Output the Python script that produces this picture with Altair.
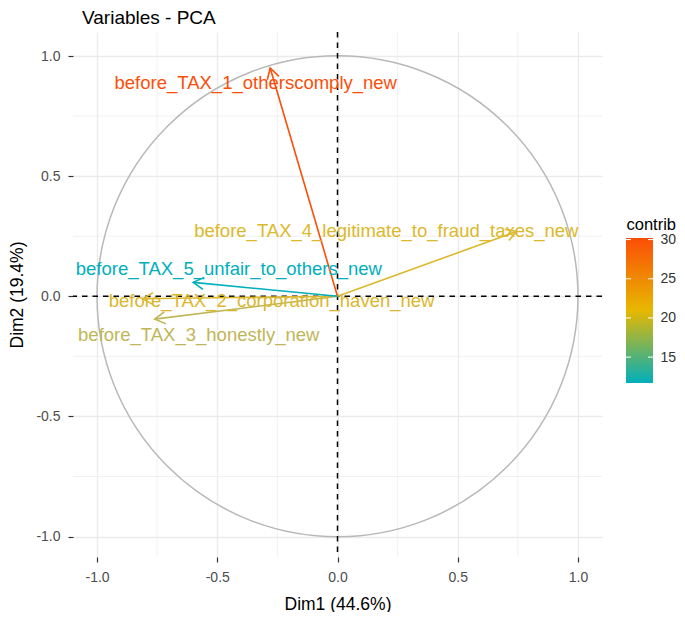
import math
import altair as alt
import numpy as np
import pandas as pd

# ---- data ----
variables = [
    "before_TAX_1_otherscomply_new",
    "before_TAX_2_corporation_haven_new",
    "before_TAX_3_honestly_new",
    "before_TAX_4_legitimate_to_fraud_taxes_new",
    "before_TAX_5_unfair_to_others_new",
]
dim1 = [-0.28, -0.81, -0.76, 0.745, -0.60]
dim2 = [0.95, -0.01, -0.095, 0.27, 0.058]
contrib = [30.2, 20.0, 18.0, 20.1, 11.7]
# repelled label positions (centre of text)
label_x = [-0.34, -0.274, -0.577, 0.203, -0.452]
label_y = [0.886, -0.021, -0.162, 0.27, 0.112]
major_ticks = [-1.0, -0.5, 0.0, 0.5, 1.0]
minor_ticks = [-0.75, -0.25, 0.25, 0.75]
legend_values = [15, 20, 25, 30]
grad_colors = ["#00AFBB", "#E7B800", "#FC4E07"]

# ---- layout ----
W, H = 529, 525
X_DOM = [-1.1, 1.1]
Y_DOM = [-1.085, 1.1]
SX = W / (X_DOM[1] - X_DOM[0])
SY = H / (Y_DOM[1] - Y_DOM[0])
FONT = "Liberation Sans"
# colour bar placement (plot-area pixels)
BAR_X0, BAR_W = 553, 27
BAR_TOP, BAR_BOTTOM = 206, 351

df = pd.DataFrame({
    "variable": variables, "dim1": dim1, "dim2": dim2,
    "contrib": contrib, "lx": label_x, "ly": label_y,
})
df["o"] = 0.0
df["angle"] = [
    (math.degrees(math.atan2(-b * SY, a * SX)) + 360) % 360 for a, b in zip(dim1, dim2)
]
minor_df = pd.DataFrame({"v": minor_ticks})
origin_df = pd.DataFrame({"c": [0.0]})
cmin, cmax = min(contrib), max(contrib)
bar_df = pd.DataFrame({"lo": [cmin], "hi": [cmax]})
lv_df = pd.DataFrame({"v": legend_values})

xs = alt.Scale(domain=X_DOM, nice=False, zero=False)
ys = alt.Scale(domain=Y_DOM, nice=False, zero=False)
cs = alt.Scale(domain=[cmin, (cmin + cmax) / 2, cmax], range=grad_colors, interpolate="lab")
ls = alt.Scale(domain=[cmin, cmax], range=[BAR_BOTTOM, BAR_TOP], nice=False, zero=False)

lab_expr = "replace(format(datum.value, '.1f'), '\u2212', '-')"
x_axis = alt.Axis(values=major_ticks, title="Dim1 (44.6%)", grid=True, gridColor="#ebebeb",
                  gridWidth=1.3, domain=False, tickColor="#333333", tickSize=5, tickWidth=1.2,
                  labelFontSize=14, labelColor="#4d4d4d", labelFont=FONT, labelPadding=8,
                  labelExpr=lab_expr, titleFont=FONT, titleFontSize=17.5,
                  titleFontWeight="normal", titleColor="#000000", titlePadding=11)
y_axis = alt.Axis(values=major_ticks, title="Dim2 (19.4%)", grid=True, gridColor="#ebebeb",
                  gridWidth=1.3, domain=False, tickColor="#333333", tickSize=5, tickWidth=1.2,
                  labelFontSize=14, labelColor="#4d4d4d", labelFont=FONT, labelPadding=8,
                  labelExpr=lab_expr, titleFont=FONT, titleFontSize=17.5,
                  titleFontWeight="normal", titleColor="#000000",
                  titleAngle=270, titleBaseline="top", titleX=-65, titleY=H / 2)
AXIS_OFFSET = 53
legend_axis = alt.Axis(orient="right", values=legend_values, offset=AXIS_OFFSET, ticks=False,
                       domain=False, grid=False, labelFontSize=14, labelFont=FONT,
                       labelColor="#333333", labelPadding=5, title="contrib",
                       titleFont=FONT, titleFontSize=16.5, titleFontWeight="normal",
                       titleColor="#000000", titleAngle=0, titleAlign="left",
                       titleBaseline="alphabetic", titleX=BAR_X0 - (W + AXIS_OFFSET),
                       titleY=BAR_TOP - 9)


def X(field):
    return alt.X(field, scale=xs, axis=x_axis)


def Y(field):
    return alt.Y(field, scale=ys, axis=y_axis)


def LY(field):
    return alt.Y(field, scale=ls, axis=legend_axis)


def S():
    return alt.Stroke("contrib:Q", scale=cs, legend=None)


base = alt.Chart(df)

minor_x = alt.Chart(minor_df).mark_rule(color="#ebebeb", strokeWidth=0.7).encode(x=X("v:Q"))
minor_y = alt.Chart(minor_df).mark_rule(color="#ebebeb", strokeWidth=0.7).encode(y=Y("v:Q"))

circle = alt.Chart(origin_df).mark_arc(
    radius=SX, theta=0, theta2=2 * math.pi, filled=False, stroke="#b8b8b8",
    strokeWidth=1.5, fill=None).encode(x=X("c:Q"), y=Y("c:Q"))

zero_v = alt.Chart(origin_df).mark_rule(
    color="#000000", strokeDash=[5.5, 5], strokeWidth=1.5).encode(x=X("c:Q"))
zero_h = alt.Chart(origin_df).mark_rule(
    color="#000000", strokeDash=[5.5, 5], strokeWidth=1.5).encode(y=Y("c:Q"))

arrows = base.mark_rule(strokeWidth=1.6).encode(
    x=X("o:Q"), y=Y("o:Q"), x2="dim1:Q", y2="dim2:Q", stroke=S())
heads = base.mark_point(shape="M-0.866,-0.5L0,0L-0.866,0.5", filled=False, size=576,
                        strokeWidth=1.6, opacity=1).encode(
    x=X("dim1:Q"), y=Y("dim2:Q"), angle=alt.Angle("angle:Q", scale=None), stroke=S())
labels = base.mark_text(fontSize=18.5, font=FONT, align="center", baseline="middle").encode(
    x=X("lx:Q"), y=Y("ly:Q"), text="variable:N",
    fill=alt.Fill("contrib:Q", scale=cs, legend=None))

main = alt.layer(minor_x, minor_y, circle, zero_v, zero_h, arrows, heads, labels)

# ---- colour bar (legend for contrib) ----
stops = [
    alt.GradientStop(offset=0, color=grad_colors[0]),
    alt.GradientStop(offset=0.5, color=grad_colors[1]),
    alt.GradientStop(offset=1, color=grad_colors[2]),
]
bar = alt.Chart(bar_df).mark_rect(
    fill=alt.LinearGradient(gradient="linear", stops=stops, x1=0, x2=0, y1=1, y2=0)
).encode(
    y=LY("lo:Q"), y2="hi:Q",
    x=alt.value(BAR_X0), x2=alt.value(BAR_X0 + BAR_W),
)
bar_ticks_l = alt.Chart(lv_df).mark_rule(color="white", strokeWidth=1).encode(
    y=LY("v:Q"), x=alt.value(BAR_X0), x2=alt.value(BAR_X0 + 5))
bar_ticks_r = alt.Chart(lv_df).mark_rule(color="white", strokeWidth=1).encode(
    y=LY("v:Q"), x=alt.value(BAR_X0 + BAR_W - 5), x2=alt.value(BAR_X0 + BAR_W))
legend_layer = alt.layer(bar, bar_ticks_l, bar_ticks_r)

chart = alt.layer(main, legend_layer).resolve_scale(y="independent").resolve_axis(
    y="independent").properties(
    width=W, height=H,
    autosize=alt.AutoSizeParams(type="none"),
    padding={"left": 65, "top": 24, "right": 75, "bottom": 55},
    title=alt.TitleParams("Variables - PCA", anchor="start", frame="group", dx=9, offset=3,
                          fontSize=19, fontWeight="normal",
                          font=FONT, color="#000000"),
).configure_view(stroke=None)

chart.save("out.html", embed_options={"renderer": "svg", "actions": False})
